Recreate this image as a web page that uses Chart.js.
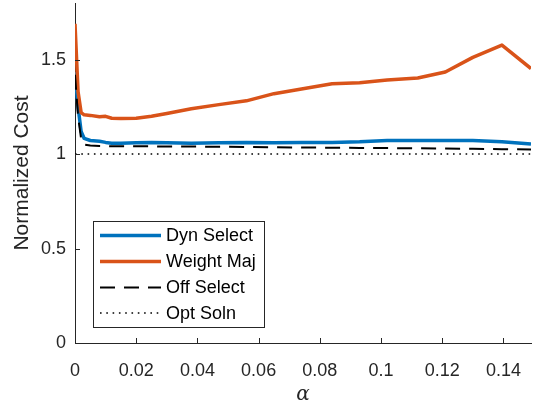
<!DOCTYPE html>
<html>
<head>
<meta charset="utf-8">
<script src="https://cdn.jsdelivr.net/npm/chart.js@4/dist/chart.umd.min.js"></script>
<style>
  html, body { margin: 0; padding: 0; background: #fff; }
  #wrap { width: 538px; height: 412px; }
</style>
</head>
<body>
<div id="wrap"><canvas id="costChart" width="538" height="412"></canvas></div>
<script>
// --- DATA ---
const alpha = [0, 0.001, 0.002, 0.003, 0.005, 0.008, 0.01, 0.012, 0.015, 0.02, 0.025, 0.03, 0.038,
  0.047, 0.056, 0.065, 0.074, 0.084, 0.093, 0.102, 0.112, 0.121, 0.130, 0.1395, 0.149];
const dynSelect = [1.435, 1.25, 1.12, 1.083, 1.072, 1.068, 1.062, 1.058, 1.057, 1.06, 1.062, 1.06, 1.058,
  1.06, 1.062, 1.06, 1.062, 1.062, 1.065, 1.072, 1.072, 1.072, 1.072, 1.066, 1.053];
const weightMaj = [1.69, 1.33, 1.22, 1.208, 1.205, 1.198, 1.2, 1.19, 1.188, 1.19, 1.2, 1.215, 1.24,
  1.262, 1.282, 1.32, 1.345, 1.372, 1.378, 1.392, 1.403, 1.435, 1.512, 1.577, 1.453];
const offSelect = [1.42, 1.2, 1.08, 1.05, 1.045, 1.043, 1.042, 1.042, 1.042, 1.041, 1.041, 1.04, 1.04,
  1.039, 1.038, 1.036, 1.035, 1.034, 1.033, 1.032, 1.031, 1.03, 1.028, 1.026, 1.025];
const optSoln = [1, 1, 1, 1, 1, 1, 1, 1, 1, 1, 1, 1, 1, 1, 1, 1, 1, 1, 1, 1, 1, 1, 1, 1, 1];

const seriesNames = ['Dyn Select', 'Weight Maj', 'Off Select', 'Opt Soln'];
const xTicks = [0, 0.02, 0.04, 0.06, 0.08, 0.1, 0.12, 0.14];
const yTicks = [0, 0.5, 1, 1.5];

const AXIS_COLOR = '#262626';
const FONT = '"Liberation Sans", Arial, Helvetica, sans-serif';

const toPoints = ys => ys.map((y, i) => ({ x: alpha[i], y: y }));

// MATLAB style: ticks pointing into the plot
const inwardTicks = {
  id: 'inwardTicks',
  afterDatasetsDraw(chart) {
    const { ctx, chartArea, scales } = chart;
    ctx.save();
    ctx.strokeStyle = AXIS_COLOR;
    ctx.lineWidth = 1;
    ctx.beginPath();
    xTicks.forEach(v => {
      const px = Math.round(scales.x.getPixelForValue(v)) + 0.5;
      ctx.moveTo(px, chartArea.bottom);
      ctx.lineTo(px, chartArea.bottom - 5);
    });
    yTicks.forEach(v => {
      const py = Math.round(scales.y.getPixelForValue(v)) + 0.5;
      ctx.moveTo(chartArea.left, py);
      ctx.lineTo(chartArea.left + 5, py);
    });
    ctx.stroke();
    ctx.restore();
  }
};

// legend box drawn inside the plot, lower left
const boxLegend = {
  id: 'boxLegend',
  afterDraw(chart) {
    const { ctx } = chart;
    const box = { x: 93.5, y: 221.5, w: 171, h: 106 };
    const rows = [235.5, 261.5, 287.5, 313];
    ctx.save();
    ctx.fillStyle = '#fff';
    ctx.fillRect(box.x, box.y, box.w, box.h);
    ctx.strokeStyle = AXIS_COLOR;
    ctx.lineWidth = 1;
    ctx.strokeRect(box.x, box.y, box.w, box.h);

    seriesNames.forEach((name, i) => {
      const ds = chart.data.datasets.find(d => d.label === name);
      ctx.beginPath();
      ctx.setLineDash(ds.borderDash || []);
      ctx.lineDashOffset = 0;
      ctx.strokeStyle = ds.borderColor;
      ctx.lineWidth = ds.borderWidth;
      ctx.lineCap = 'butt';
      ctx.moveTo(100, rows[i]);
      ctx.lineTo(161, rows[i]);
      ctx.stroke();

      ctx.setLineDash([]);
      ctx.fillStyle = '#000';
      ctx.font = '18px ' + FONT;
      ctx.textBaseline = 'middle';
      ctx.textAlign = 'left';
      ctx.fillText(name, 166, rows[i] + 1);
    });
    ctx.restore();
  }
};

const ctx = document.getElementById('costChart').getContext('2d');

new Chart(ctx, {
  type: 'line',
  data: {
    datasets: [
      { label: seriesNames[0], data: toPoints(dynSelect), borderColor: '#0072BD', borderWidth: 3.5, order: 3 },
      { label: seriesNames[1], data: toPoints(weightMaj), borderColor: '#D95319', borderWidth: 3.5, order: 2 },
      { label: seriesNames[2], data: toPoints(offSelect), borderColor: '#000000', borderWidth: 2, borderDash: [15, 9], order: 1 },
      { label: seriesNames[3], data: toPoints(optSoln), borderColor: '#000000', borderWidth: 1.5, borderDash: [1.6, 4.7], order: 0 }
    ]
  },
  options: {
    responsive: false,
    animation: false,
    parsing: false,
    elements: {
      point: { radius: 0 },
      line: { tension: 0, fill: false, borderCapStyle: 'butt', borderJoinStyle: 'round' }
    },
    layout: { padding: { top: 3, right: 7, left: 0, bottom: 0 } },
    plugins: {
      legend: { display: false },
      tooltip: { enabled: false }
    },
    scales: {
      x: {
        type: 'linear',
        min: 0,
        max: 0.149,
        afterFit: s => { s.height = 69; s.paddingLeft = 0; s.paddingRight = 0; },
        afterBuildTicks: s => { s.ticks = xTicks.map(v => ({ value: v })); },
        grid: { display: false, drawTicks: false },
        border: { display: true, color: AXIS_COLOR, width: 1 },
        ticks: {
          color: AXIS_COLOR,
          padding: 17,
          maxRotation: 0,
          font: { family: FONT, size: 18 },
          callback: v => String(Math.round(v * 100) / 100)
        },
        title: {
          display: true,
          text: 'α',
          color: AXIS_COLOR,
          padding: { top: 0, bottom: 5 },
          font: { family: '"DejaVu Serif", "Liberation Serif", serif', size: 20, style: 'italic' }
        }
      },
      y: {
        type: 'linear',
        min: 0,
        max: 1.8,
        afterFit: s => { s.width = 75; s.paddingTop = 0; s.paddingBottom = 0; },
        afterBuildTicks: s => { s.ticks = yTicks.map(v => ({ value: v })); },
        grid: { display: false, drawTicks: false },
        border: { display: true, color: AXIS_COLOR, width: 1 },
        ticks: {
          color: AXIS_COLOR,
          padding: 9,
          font: { family: FONT, size: 18 },
          callback: v => String(v)
        },
        title: {
          display: true,
          text: 'Normalized Cost',
          color: AXIS_COLOR,
          padding: { top: 10, bottom: 0 },
          font: { family: FONT, size: 21 }
        }
      }
    }
  },
  plugins: [inwardTicks, boxLegend]
});
</script>
</body>
</html>
